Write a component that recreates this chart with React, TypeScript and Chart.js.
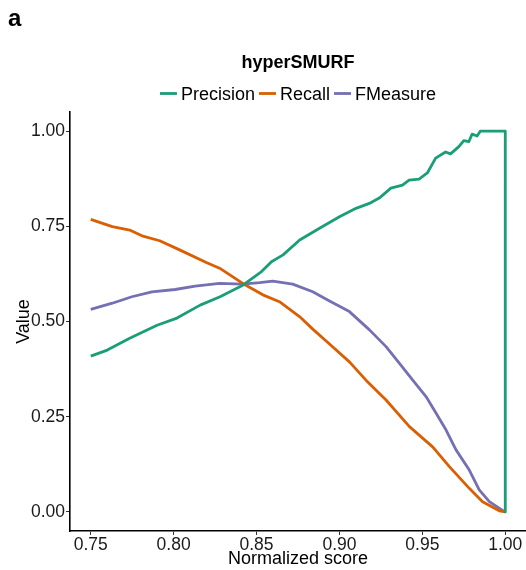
import { useEffect, useRef } from "react";
import { Chart, registerables } from "chart.js";

Chart.register(...registerables);

const FONT = "'Liberation Sans', Arial, Helvetica, sans-serif";

const panelTag = "a";
const chartTitle = "hyperSMURF";
const xAxisTitle = "Normalized score";
const yAxisTitle = "Value";

const xTicks = [0.75, 0.8, 0.85, 0.9, 0.95, 1.0];
const xTickLabels = ["0.75", "0.80", "0.85", "0.90", "0.95", "1.00"];
const yTicks = [0, 0.25, 0.5, 0.75, 1.0];
const yTickLabels = ["0.00", "0.25", "0.50", "0.75", "1.00"];

const seriesNames = ["Precision", "Recall", "FMeasure"];
const seriesColors = ["#1b9e77", "#d95f02", "#7570b3"];

const precisionScore = [
  0.75, 0.76, 0.7735, 0.79, 0.802, 0.816, 0.828, 0.842, 0.853, 0.859, 0.866,
  0.876, 0.888, 0.9, 0.91, 0.918, 0.924, 0.931, 0.938, 0.942, 0.948, 0.953,
  0.958, 0.964, 0.967, 0.972, 0.975, 0.978, 0.98, 0.983, 0.985, 1.0, 1.0,
];
const precision = [
  0.409, 0.425, 0.456, 0.49, 0.509, 0.543, 0.565, 0.596, 0.631, 0.657, 0.675,
  0.714, 0.745, 0.775, 0.797, 0.81, 0.824, 0.85, 0.858, 0.871, 0.874, 0.89,
  0.929, 0.945, 0.94, 0.959, 0.975, 0.972, 0.992, 0.987, 1.0, 1.0, 0.0,
];

const recallScore = [
  0.75, 0.763, 0.7735, 0.7815, 0.7916, 0.8036, 0.8197, 0.8277, 0.8417, 0.8538,
  0.8638, 0.8759, 0.8839, 0.894, 0.906, 0.916, 0.9281, 0.9422, 0.9562, 0.9663,
  0.9783, 0.9863, 0.9964, 1.0,
];
const recall = [
  0.768, 0.749, 0.74, 0.724, 0.712, 0.688, 0.655, 0.64, 0.6, 0.57, 0.552, 0.513,
  0.48, 0.441, 0.394, 0.346, 0.294, 0.224, 0.171, 0.119, 0.062, 0.027, 0.003, 0.0,
];

const fmeasureScore = [
  0.75, 0.763, 0.7748, 0.7869, 0.8009, 0.813, 0.8277, 0.8417, 0.8518, 0.8598,
  0.8718, 0.8839, 0.894, 0.906, 0.9181, 0.9281, 0.9362, 0.9442, 0.9522, 0.9583,
  0.9643, 0.9703, 0.9783, 0.9843, 0.9904, 0.9988, 1.0,
];
const fmeasure = [
  0.532, 0.548, 0.565, 0.578, 0.584, 0.593, 0.6, 0.598, 0.602, 0.606, 0.598,
  0.578, 0.554, 0.526, 0.478, 0.434, 0.39, 0.346, 0.303, 0.259, 0.215, 0.163,
  0.11, 0.058, 0.027, 0.003, 0.0,
];

const seriesScores = [precisionScore, recallScore, fmeasureScore];
const seriesValues = [precision, recall, fmeasure];

// Panel tag, centred title and a horizontal key with short line swatches.
const headerPlugin = {
  id: "header",
  afterDraw(chart: any) {
    const { ctx, chartArea } = chart;
    const cx = (chartArea.left + chartArea.right) / 2;
    ctx.save();
    ctx.fillStyle = "#000";
    ctx.textBaseline = "alphabetic";

    ctx.textAlign = "left";
    ctx.font = `bold 24px ${FONT}`;
    ctx.fillText(panelTag, 8, 26);

    ctx.textAlign = "center";
    ctx.font = `bold 18px ${FONT}`;
    ctx.fillText(chartTitle, cx, 68);

    ctx.font = `18px ${FONT}`;
    const swatch = 17;
    const gap = 4;
    const items = chart.data.datasets.map((ds: any) => ({
      text: ds.label as string,
      color: ds.borderColor as string,
      w: ctx.measureText(ds.label).width,
    }));
    const total =
      items.reduce((s: number, it: any) => s + swatch + gap + it.w, 0) +
      gap * (items.length - 1);
    let x = cx - total / 2;
    ctx.textAlign = "left";
    ctx.lineWidth = 2.8;
    ctx.lineCap = "butt";
    for (const it of items) {
      ctx.strokeStyle = it.color;
      ctx.beginPath();
      ctx.moveTo(x, 93.5);
      ctx.lineTo(x + swatch, 93.5);
      ctx.stroke();
      x += swatch + gap;
      ctx.fillStyle = "#000";
      ctx.fillText(it.text, x, 100);
      x += it.w + gap;
    }
    ctx.restore();
  },
};

export default function App() {
  const canvasRef = useRef<HTMLCanvasElement | null>(null);

  useEffect(() => {
    const canvas = canvasRef.current;
    if (!canvas) return;

    const datasets = seriesNames.map((name, i) => ({
      label: name,
      data: seriesScores[i].map((s, j) => ({ x: s, y: seriesValues[i][j] })),
      borderColor: seriesColors[i],
      backgroundColor: seriesColors[i],
      borderWidth: 2.8,
      pointRadius: 0,
      pointHoverRadius: 0,
      tension: 0,
      fill: false,
      borderJoinStyle: "round" as const,
    }));

    const tickFont = { family: FONT, size: 17.5 };

    const chart = new Chart(canvas, {
      type: "line",
      data: { datasets },
      plugins: [headerPlugin],
      options: {
        animation: false,
        responsive: false,
        devicePixelRatio: 1,
        layout: { padding: { top: 112, left: 0, right: 0, bottom: 0 } },
        plugins: {
          legend: { display: false },
          title: { display: false },
          tooltip: { enabled: false },
        },
        scales: {
          x: {
            type: "linear",
            min: 0.7375,
            max: 1.0125,
            bounds: "data",
            afterBuildTicks: (s: any) => {
              s.ticks = xTicks.map((v) => ({ value: v }));
            },
            afterFit: (s: any) => {
              s.height = 39;
            },
            ticks: {
              callback: (_v: any, i: number) => xTickLabels[i],
              font: tickFont,
              color: "#1a1a1a",
              padding: 0,
              maxRotation: 0,
              autoSkip: false,
            },
            grid: {
              drawOnChartArea: false,
              drawTicks: true,
              tickLength: 4,
              color: "#333",
              lineWidth: 1,
            },
            border: { display: true, color: "#000", width: 1.6 },
            title: {
              display: true,
              text: xAxisTitle,
              font: { family: FONT, size: 18 },
              color: "#000",
              padding: { top: 0, bottom: 0.5 },
            },
          },
          y: {
            type: "linear",
            min: -0.05,
            max: 1.05,
            bounds: "data",
            afterBuildTicks: (s: any) => {
              s.ticks = yTicks.map((v) => ({ value: v }));
            },
            afterFit: (s: any) => {
              s.width = 70;
            },
            ticks: {
              callback: (_v: any, i: number) => yTickLabels[i],
              font: tickFont,
              color: "#1a1a1a",
              padding: 1,
              autoSkip: false,
            },
            grid: {
              drawOnChartArea: false,
              drawTicks: true,
              tickLength: 4,
              color: "#333",
              lineWidth: 1,
            },
            border: { display: true, color: "#000", width: 1.6 },
            title: {
              display: true,
              text: yAxisTitle,
              font: { family: FONT, size: 18 },
              color: "#000",
              padding: { top: 13, bottom: 0 },
            },
          },
        },
      },
    });

    return () => chart.destroy();
  }, []);

  return (
    <div
      style={{
        position: "absolute",
        left: 0,
        top: 0,
        width: 526,
        height: 570,
        background: "#fff",
      }}
    >
      <canvas ref={canvasRef} width={526} height={570} />
    </div>
  );
}
